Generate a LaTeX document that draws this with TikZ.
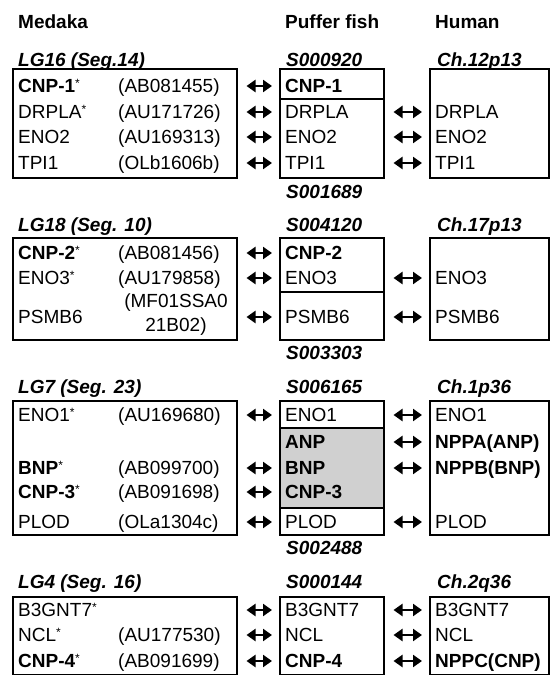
\documentclass[tikz,border=0pt]{standalone}
\usepackage{fontspec}
\setmainfont{Liberation Sans}
\usetikzlibrary{arrows.meta}
\definecolor{PufferGray}{HTML}{D0D0D0}
\newcommand{\medstar}{\raisebox{5pt}{\fontsize{12}{12}\selectfont *}}

\begin{document}
\begin{tikzpicture}[x=1pt, y=-1pt,
    every node/.style={font=\fontsize{19}{24}\selectfont, inner sep=0pt, anchor=west},
    gene/.style={text height=13.6pt, text depth=0pt},
    head/.style={gene, font=\fontsize{19}{24}\selectfont\bfseries},
    loc/.style={gene, font=\fontsize{19}{24}\selectfont\bfseries\itshape},
    box/.style={draw, line width=2.7pt, inner sep=0pt, outer sep=0pt, anchor=north west},
    link/.style={{Triangle[length=9pt,width=12pt]}-{Triangle[length=9pt,width=12pt]},
                 line width=2.6pt, shorten <=9.5pt, shorten >=8pt}]
    \useasboundingbox (0,0) rectangle (551,675);

    % column heads
    \node[head] (medaka) at (18,22) {Medaka};
    \node[head] (puffer) at (285,22) {Puffer fish};
    \node[head] (human) at (435,22) {Human};

    % LG16
    \node[loc] (lg16) at (18,60) {LG16 (Seg.14)};
    \node[loc] (s920) at (286,60) {S000920};
    \node[loc] (ch12) at (437,60) {Ch.12p13};
    \node[box, minimum width=224pt, minimum height=109pt] (m16) at (13,69) {};
    \node[box, minimum width=104pt, minimum height=30pt] (pa1) at (280,69) {};
    \node[box, minimum width=104pt, minimum height=79pt] (pb1) at (280,99) {};
    \node[box, minimum width=119pt, minimum height=109pt] (h12) at (430,69) {};
    \foreach \n/\y/\med/\acc/\puf in {1/86/{\textbf{CNP-1}\medstar}/(AB081455)/\textbf{CNP-1},
        2/112/{DRPLA\medstar}/(AU171726)/DRPLA, 3/137/ENO2/(AU169313)/ENO2, 4/163/TPI1/(OLb1606b)/TPI1} {
      \node[gene] (mr1\n) at (18,\y) {\med};
      \node[gene] (ac1\n) at (118,\y) {\acc};
      \node[gene] (pr1\n) at (285,\y) {\puf};
      \draw[link] (m16.east |- pr1\n.west) -- (pa1.west |- pr1\n.west);
    }
    \foreach \n/\y/\hum in {2/112/DRPLA, 3/137/ENO2, 4/163/TPI1} {
      \node[gene] (hr1\n) at (435,\y) {\hum};
      \draw[link] (pb1.east |- hr1\n.west) -- (h12.west |- hr1\n.west);
    }
    \node[loc] (s1689) at (286,192) {S001689};

    % LG18
    \node[loc] (lg18) at (18,225) {LG18 (Seg. 10)};
    \node[loc] (s4120) at (286,225) {S004120};
    \node[loc] (ch17) at (437,225) {Ch.17p13};
    \node[box, minimum width=224pt, minimum height=102pt] (m18) at (13,238) {};
    \node[box, minimum width=104pt, minimum height=54pt] (pa2) at (280,238) {};
    \node[box, minimum width=104pt, minimum height=48pt] (pb2) at (280,292) {};
    \node[box, minimum width=119pt, minimum height=102pt] (h17) at (430,238) {};
    \foreach \n/\y/\med/\puf in {1/253/{\textbf{CNP-2}\medstar}/\textbf{CNP-2},
        2/278/{ENO3\medstar}/ENO3, 3/317/PSMB6/PSMB6} {
      \node[gene] (mr2\n) at (18,\y) {\med};
      \node[gene] (pr2\n) at (285,\y) {\puf};
      \draw[link] (m18.east |- pr2\n.west) -- (pa2.west |- pr2\n.west);
    }
    \node[gene] (ac21) at (118,253) {(AB081456)};
    \node[gene] (ac22) at (118,278) {(AU179858)};
    \node[anchor=center, align=center] (ac23) at (176,315) {(MF01SSA0\\21B02)};
    \foreach \n/\y/\hum in {2/278/ENO3, 3/317/PSMB6} {
      \node[gene] (hr2\n) at (435,\y) {\hum};
      \draw[link] (pa2.east |- hr2\n.west) -- (h17.west |- hr2\n.west);
    }
    \node[loc] (s3303) at (286,353) {S003303};

    % LG7
    \node[loc] (lg7) at (18,387) {LG7 (Seg. 23)};
    \node[loc] (s6165) at (286,387) {S006165};
    \node[loc] (ch1) at (437,387) {Ch.1p36};
    \node[box, minimum width=224pt, minimum height=134pt] (m7) at (13,401) {};
    \node[box, minimum width=104pt, minimum height=27pt] (pa3) at (280,401) {};
    \node[box, fill=PufferGray, minimum width=104pt, minimum height=80pt] (pg3) at (280,428) {};
    \node[box, minimum width=104pt, minimum height=27pt] (pc3) at (280,508) {};
    \node[box, minimum width=119pt, minimum height=134pt] (h1) at (430,401) {};
    \foreach \n/\y/\puf in {1/415/ENO1, 2/442/\textbf{ANP}, 3/468/\textbf{BNP},
        4/492/\textbf{CNP-3}, 5/522/PLOD} {
      \node[gene] (pr3\n) at (285,\y) {\puf};
    }
    \foreach \n/\y/\med/\acc in {1/415/{ENO1\medstar}/(AU169680), 3/468/{\textbf{BNP}\medstar}/(AB099700),
        4/492/{\textbf{CNP-3}\medstar}/(AB091698), 5/522/PLOD/(OLa1304c)} {
      \node[gene] (mr3\n) at (18,\y) {\med};
      \node[gene] (ac3\n) at (118,\y) {\acc};
      \draw[link] (m7.east |- pr3\n.west) -- (pa3.west |- pr3\n.west);
    }
    \foreach \n/\y/\hum in {1/415/ENO1, 2/442/\textbf{NPPA(ANP)}, 3/468/\textbf{NPPB(BNP)}, 5/522/PLOD} {
      \node[gene] (hr3\n) at (435,\y) {\hum};
      \draw[link] (pa3.east |- hr3\n.west) -- (h1.west |- hr3\n.west);
    }
    \node[loc] (s2488) at (286,548) {S002488};

    % LG4
    \node[loc] (lg4) at (18,582) {LG4 (Seg. 16)};
    \node[loc] (s144) at (286,582) {S000144};
    \node[loc] (ch2) at (437,582) {Ch.2q36};
    \node[box, minimum width=224pt, minimum height=78pt] (m4) at (13,597) {};
    \node[box, minimum width=104pt, minimum height=78pt] (pa4) at (280,597) {};
    \node[box, minimum width=119pt, minimum height=78pt] (h2) at (430,597) {};
    \foreach \n/\y/\med/\puf/\hum in {1/610/{B3GNT7\medstar}/B3GNT7/B3GNT7, 2/635/{NCL\medstar}/NCL/NCL,
        3/661/{\textbf{CNP-4}\medstar}/\textbf{CNP-4}/\textbf{NPPC(CNP)}} {
      \node[gene] (mr4\n) at (18,\y) {\med};
      \node[gene] (pr4\n) at (285,\y) {\puf};
      \node[gene] (hr4\n) at (435,\y) {\hum};
      \draw[link] (m4.east |- pr4\n.west) -- (pa4.west |- pr4\n.west);
      \draw[link] (pa4.east |- hr4\n.west) -- (h2.west |- hr4\n.west);
    }
    \node[gene] (ac42) at (118,635) {(AU177530)};
    \node[gene] (ac43) at (118,661) {(AB091699)};
\end{tikzpicture}
\end{document}
